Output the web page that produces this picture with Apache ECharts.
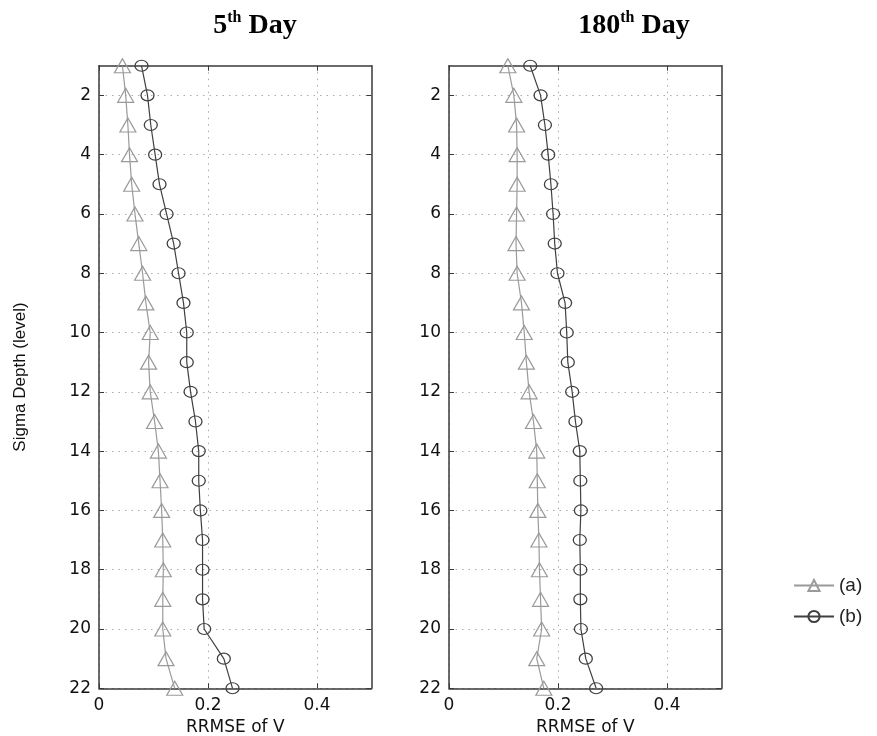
<!DOCTYPE html>
<html>
<head>
<meta charset="utf-8">
<script src="https://cdn.jsdelivr.net/npm/echarts@6/dist/echarts.min.js"></script>
<style>
html,body{margin:0;padding:0;background:#fff;}
#chart{width:877px;height:736px;}
</style>
</head>
<body>
<div id="chart"></div>
<script>
// Sigma levels (y)
var levels = [1,2,3,4,5,6,7,8,9,10,11,12,13,14,15,16,17,18,19,20,21,22];
// 5th day
var day5_a = [0.043,0.049,0.053,0.056,0.060,0.066,0.073,0.080,0.086,0.094,0.091,0.094,0.102,0.109,0.112,0.115,0.117,0.118,0.117,0.117,0.123,0.139];
var day5_b = [0.078,0.089,0.095,0.103,0.111,0.124,0.137,0.146,0.155,0.161,0.161,0.168,0.177,0.183,0.183,0.186,0.190,0.190,0.190,0.193,0.229,0.245];
// 180th day
var day180_a = [0.108,0.119,0.124,0.125,0.125,0.124,0.123,0.125,0.133,0.138,0.142,0.147,0.155,0.161,0.162,0.163,0.165,0.166,0.168,0.170,0.161,0.174];
var day180_b = [0.149,0.168,0.176,0.182,0.187,0.191,0.194,0.199,0.213,0.216,0.218,0.226,0.232,0.240,0.241,0.242,0.240,0.241,0.241,0.242,0.251,0.270];
// tick labels
var yTicks = [2,4,6,8,10,12,14,16,18,20,22];
var xTicks = [0,0.2,0.4];
var seriesNames = ['(a)','(b)'];
var titles = ['5', '180'];

function pairs(xs){ return xs.map(function(v,i){ return [v, levels[i]]; }); }

var axisCol = '#3a3a3a';
var labelFont = {fontFamily:'DejaVu Sans', fontSize:17, color:'#111'};

var gridLeft = [99, 449];
var grids = gridLeft.map(function(l){ return {left:l, top:65.7, width:272.5, height:622.6, containLabel:false, outerBoundsMode:'none'}; });

var xAxes = [], yAxes = [];
[0,1].forEach(function(g){
  xAxes.push({
    type:'value', gridIndex:g, position:'bottom', min:0, max:0.5,
    name:'RRMSE of V', nameLocation:'middle', nameGap:28,
    nameTextStyle:{fontFamily:'DejaVu Sans', fontSize:17, color:'#111'},
    axisLine:{show:true, lineStyle:{color:axisCol, width:1.5}},
    axisTick:{show:true, inside:true, length:5, customValues:xTicks, lineStyle:{color:axisCol}},
    axisLabel:Object.assign({show:true, margin:9, customValues:xTicks, formatter:function(v){return String(v);}}, labelFont),
    splitLine:{show:true, lineStyle:{color:'#aaa', type:[1.5,5], width:1}}
  });
  xAxes.push({
    type:'value', gridIndex:g, position:'top', min:0, max:0.5,
    axisLine:{show:true, lineStyle:{color:axisCol, width:1.5}},
    axisTick:{show:true, inside:true, length:5, customValues:xTicks, lineStyle:{color:axisCol}},
    axisLabel:{show:false}, splitLine:{show:false}
  });
  var yl = {
    type:'value', gridIndex:g, position:'left', min:1, max:22, inverse:true,
    axisLine:{show:true, onZero:false, lineStyle:{color:axisCol, width:1.5}},
    axisTick:{show:true, inside:true, length:5, customValues:yTicks, lineStyle:{color:axisCol}},
    axisLabel:Object.assign({show:true, margin:8, customValues:yTicks}, labelFont),
    splitLine:{show:true, lineStyle:{color:'#aaa', type:[1.5,5], width:1}}
  };
  if (g === 0) {
    yl.name = 'Sigma Depth (level)';
    yl.nameLocation = 'middle';
    yl.nameGap = 70;
    yl.nameTextStyle = {fontFamily:'Liberation Sans', fontSize:17, color:'#111'};
  }
  yAxes.push(yl);
  yAxes.push({
    type:'value', gridIndex:g, position:'right', min:1, max:22, inverse:true,
    axisLine:{show:true, onZero:false, lineStyle:{color:axisCol, width:1.5}},
    axisTick:{show:true, inside:true, length:5, customValues:yTicks, lineStyle:{color:axisCol}},
    axisLabel:{show:false}, splitLine:{show:false}
  });
});

var colA = '#9a9a9a', colB = '#404040';
function mkSeries(name, data, g, isA){
  return {
    name:name, type:'line', xAxisIndex:g*2, yAxisIndex:g*2, data:pairs(data),
    symbol: isA ? 'triangle' : 'circle',
    symbolSize: isA ? [16,14] : [13,11],
    showAllSymbol:true,
    lineStyle:{color: isA ? colA : colB, width:1.2},
    itemStyle:{color:'rgba(255,255,255,0)', borderColor: isA ? colA : colB, borderWidth:1.2},
    animation:false, z: isA ? 3 : 4
  };
}

var option = {
  backgroundColor:'#fff',
  animation:false,
  grid:grids,
  xAxis:xAxes,
  yAxis:yAxes,
  legend:{
    orient:'vertical', left:788, top:571, itemWidth:40, itemHeight:14, itemGap:12,
    data:seriesNames,
    textStyle:{fontFamily:'Liberation Sans', fontSize:19, color:'#222'}
  },
  graphic:[
    {type:'text', x:255, y:10, style:{
      text:'{n|' + titles[0] + '}{s|th}{n| Day}', align:'center',
      rich:{n:{fontFamily:'Liberation Serif', fontWeight:'bold', fontSize:28, lineHeight:30, verticalAlign:'bottom', fill:'#000'},
            s:{fontFamily:'Liberation Serif', fontWeight:'bold', fontSize:16, lineHeight:30, verticalAlign:'top', fill:'#000'}}
    }},
    {type:'text', x:634, y:10, style:{
      text:'{n|' + titles[1] + '}{s|th}{n| Day}', align:'center',
      rich:{n:{fontFamily:'Liberation Serif', fontWeight:'bold', fontSize:28, lineHeight:30, verticalAlign:'bottom', fill:'#000'},
            s:{fontFamily:'Liberation Serif', fontWeight:'bold', fontSize:16, lineHeight:30, verticalAlign:'top', fill:'#000'}}
    }}
  ],
  series:[
    mkSeries(seriesNames[0], day5_a, 0, true),
    mkSeries(seriesNames[1], day5_b, 0, false),
    mkSeries(seriesNames[0], day180_a, 1, true),
    mkSeries(seriesNames[1], day180_b, 1, false)
  ]
};

var chart = echarts.init(document.getElementById('chart'), null, {renderer:'canvas'});
chart.setOption(option);
</script>
</body>
</html>
